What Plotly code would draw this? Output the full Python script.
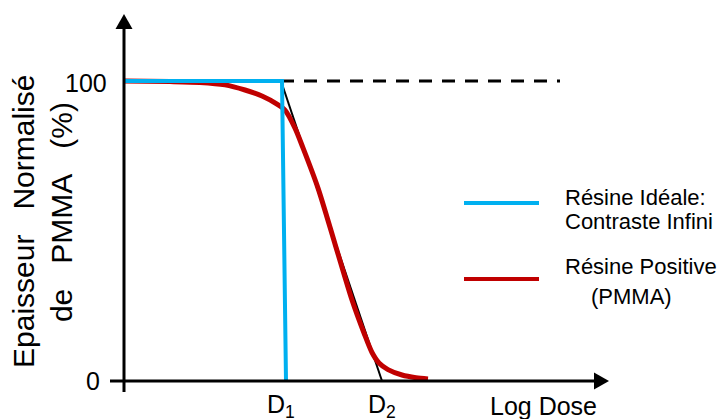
import plotly.graph_objects as go

# ---------------- data ----------------
# x: log dose (arbitrary units), y: normalised PMMA thickness (%)
ideal_x = [0.0, 1.58, 1.62]
ideal_y = [100, 100, 0]

pmma_x = [0.0, 0.46, 0.76, 1.01, 1.21, 1.38, 1.53, 1.61, 1.71, 1.79, 1.94, 2.11, 2.28, 2.40, 2.48, 2.55, 2.64, 2.78, 2.92, 3.04]
pmma_y = [100, 99.8, 99.5, 98.7, 97.0, 95.0, 92.3, 90.3, 84.3, 77.7, 64.3, 45.7, 27.0, 16.0, 9.5, 6.0, 3.8, 2.0, 1.1, 0.7]

D1 = 1.57
D2 = 2.58
tangent_x = [D1, D2]
tangent_y = [100, 0]

dash_x = [D1, 4.36]
dash_y = [100, 100]

x_tick_vals = [D1, D2]
x_tick_text = ["D<sub>1</sub>", "D<sub>2</sub>"]
y_tick_vals = [0, 100]
y_tick_text = ["0", "100"]

x_axis_end = 4.85
y_axis_end = 122.3

BLUE = "#00B0F0"
RED = "#C00000"
FONT = "Arial, Liberation Sans, sans-serif"
SP = "\u00a0\u00a0\u00a0"

fig = go.Figure()

fig.add_trace(go.Scatter(x=dash_x, y=dash_y, mode="lines",
                         line=dict(color="black", width=3, dash="13px,10px"),
                         hoverinfo="skip"))
fig.add_trace(go.Scatter(x=tangent_x, y=tangent_y, mode="lines",
                         line=dict(color="black", width=2), hoverinfo="skip"))
fig.add_trace(go.Scatter(x=pmma_x, y=pmma_y, mode="lines",
                         line=dict(color=RED, width=5, shape="spline", smoothing=0.8),
                         hoverinfo="skip"))
fig.add_trace(go.Scatter(x=ideal_x, y=ideal_y, mode="lines",
                         line=dict(color=BLUE, width=4), hoverinfo="skip"))

shapes = []
# axes
shapes.append(dict(type="line", xref="x", yref="y", x0=0, x1=0, y0=-3.7, y1=y_axis_end - 4,
                   line=dict(color="black", width=3)))
shapes.append(dict(type="line", xref="x", yref="y", x0=-0.14, x1=x_axis_end - 0.1, y0=0, y1=0,
                   line=dict(color="black", width=3)))
# arrow heads
shapes.append(dict(type="path", xref="x", yref="y", xsizemode="pixel", ysizemode="pixel",
                   xanchor=0, yanchor=y_axis_end,
                   path="M-8.5,-15 L8.5,-15 L0,0 Z",
                   fillcolor="black", line=dict(width=0)))
shapes.append(dict(type="path", xref="x", yref="y", xsizemode="pixel", ysizemode="pixel",
                   xanchor=x_axis_end, yanchor=0,
                   path="M-15,-8.5 L-15,8.5 L0,0 Z",
                   fillcolor="black", line=dict(width=0)))
# legend samples
shapes.append(dict(type="line", xref="x", yref="y", x0=3.40, x1=4.15, y0=59.3, y1=59.3,
                   line=dict(color=BLUE, width=4)))
shapes.append(dict(type="line", xref="x", yref="y", x0=3.40, x1=4.15, y0=34, y1=34,
                   line=dict(color=RED, width=4)))

ann = []
# y tick labels
for v, t, xs in zip(y_tick_vals, y_tick_text, [-0.22, -0.15]):
    ann.append(dict(x=xs, y=v, xref="x", yref="y", text=t, showarrow=False,
                    xanchor="right", yanchor="middle", yshift=-2 if v == 100 else 0,
                    font=dict(size=25, color="black", family=FONT)))
# x tick labels
for v, t in zip(x_tick_vals, x_tick_text):
    ann.append(dict(x=v, y=-8.4, xref="x", yref="y", text=t, showarrow=False,
                    xanchor="center", yanchor="middle",
                    font=dict(size=25, color="black", family=FONT)))
ann.append(dict(x=4.19, y=-8.4, xref="x", yref="y", text="Log Dose", showarrow=False,
                xanchor="center", yanchor="middle",
                font=dict(size=25, color="black", family=FONT)))
# y axis title (two lines)
ann.append(dict(x=-1.01, y=53.0, xref="x", yref="y", text="Epaisseur" + SP + "Normalisé",
                showarrow=False, textangle=-90, xanchor="center", yanchor="middle",
                font=dict(size=30, color="black", family=FONT)))
ann.append(dict(x=-0.63, y=56.3, xref="x", yref="y", text="de" + SP + "PMMA" + SP + "(%)",
                showarrow=False, textangle=-90, xanchor="center", yanchor="middle",
                font=dict(size=30, color="black", family=FONT)))
# legend text
leg = [("Résine Idéale:", 4.39, 61.3, "left"),
       ("Contraste Infini", 4.39, 53.3, "left"),
       ("Résine Positive", 4.39, 38.3, "left"),
       ("(PMMA)", 5.075, 28.3, "center")]
for t, xx, yy, anc in leg:
    ann.append(dict(x=xx, y=yy, xref="x", yref="y", text=t, showarrow=False,
                    xanchor=anc, yanchor="middle",
                    font=dict(size=22, color="black", family=FONT)))

fig.update_layout(
    width=726, height=419,
    margin=dict(l=0, r=0, t=0, b=0),
    paper_bgcolor="white", plot_bgcolor="white",
    showlegend=False,
    xaxis=dict(visible=False, range=[-1.24, 6.02], fixedrange=True),
    yaxis=dict(visible=False, range=[-12.667, 127], fixedrange=True),
    shapes=shapes, annotations=ann,
)

fig.write_html("out.html", config={"displayModeBar": False},
               post_script="document.body.style.margin='0';document.body.style.overflow='hidden';")
